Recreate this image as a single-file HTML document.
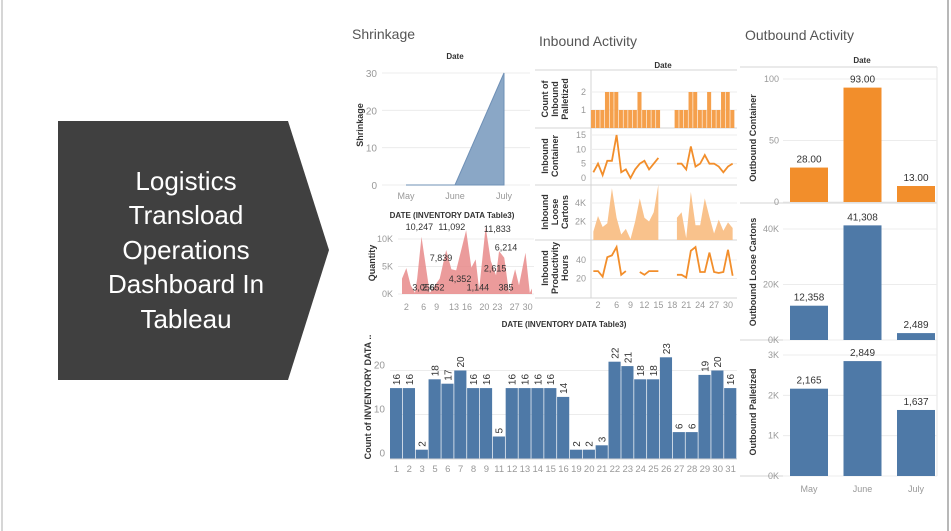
<!DOCTYPE html>
<html><head><meta charset="utf-8"><style>
html,body{margin:0;padding:0;background:#fff;}
svg{display:block;font-family:"Liberation Sans",sans-serif;}
</style></head><body>
<svg id="s" width="951" height="531" viewBox="0 0 951 531">
<line x1="2" y1="0" x2="2" y2="531" stroke="#c8c8c8" stroke-width="1.5"/>
<line x1="948" y1="0" x2="948" y2="531" stroke="#a0a0a0" stroke-width="1.5"/>
<g>
<polygon points="58,121 288,121 329,250 288,380 58,380" fill="#404040"/>
<text x="186" y="190" fill="#fff" font-size="26" text-anchor="middle">Logistics</text>
<text x="186" y="224" fill="#fff" font-size="26" text-anchor="middle">Transload</text>
<text x="186" y="259" fill="#fff" font-size="26" text-anchor="middle">Operations</text>
<text x="186" y="293" fill="#fff" font-size="26" text-anchor="middle">Dashboard In</text>
<text x="186" y="328" fill="#fff" font-size="26" text-anchor="middle">Tableau</text>
</g>
<text x="352" y="39" font-size="14" fill="#555">Shrinkage</text>
<text x="539" y="46" font-size="14" fill="#555">Inbound Activity</text>
<text x="745" y="40" font-size="14" fill="#555">Outbound Activity</text>
<g id="g"></g>
</svg>
<script>
// Shrinkage
const shrMonths=['May','June','July'];
const shrVals=[0,0,30];
const shrTicks=[0,10,20,30];
// Quantity area
const qtyDays=[1,2,3,4,4.5,5.5,7.4,9.7,11.2,12.4,13.5,15.8,17,18,18.8,20.3,21.5,22.7,23.4,24.6,25.7,27.1,28,29.5,30.5,31];
const qtyVals=[2800,4700,1600,200,2800,10400,200,2800,8000,4500,4300,11600,4800,6300,800,12200,6000,3400,7800,6600,200,4500,1600,7500,200,1000];
const qtyTicks=[0,5000,10000];
const qtyTickLabels=['0K','5K','10K'];
const qtyXTicks=[2,6,9,13,16,20,23,27,30];
const qtyLabelText=['10,247','11,092','11,833','6,214','7,839','2,615','4,352','3,056','2,652','1,144','385'];
const qtyLabelDays=[5,12.5,23,25,10,22.5,14.4,6,8.2,18.5,25];
const qtyLabelVals=[11600,11600,11300,7900,6000,4100,2200,600,600,600,600];
// Inbound
const inDaysA=[1,2,3,4,5,6,7,8,9,10,11,12,13,14,15];
const inDaysB=[19,20,21,22,23,24,25,26,27,28,29,30,31];
const palA=[1,1,1,2,2,2,1,1,1,1,2,1,1,1,1];
const palB=[1,1,1,2,2,1,1,2,1,1,2,2,1];
const contA=[2,5,1,6,6,15,2,3,0,3,5,6,3,5,7];
const contB=[5,5,3,11,4,5,8,5,5,4,2,4,5];
const looseA=[900,2600,1400,1800,5600,2400,600,1200,100,2000,4500,2400,2000,3000,6000];
const looseB=[2400,3000,200,5200,1600,1600,4500,2500,700,2200,1000,1900,1300];
const prodA=[28,28,22,43,45,54,24,28,null,null,27,24,28,28,28];
const prodB=[24,24,21,50,54,27,27,48,27,26,27,51,23];
const inXTicks=[2,6,9,12,15,18,21,24,27,30];
// Outbound
const outMonths=['May','June','July'];
const outCont=[28,93,13];
const outContLbl=['28.00','93.00','13.00'];
const outLoose=[12358,41308,2489];
const outLooseLbl=['12,358','41,308','2,489'];
const outPal=[2165,2849,1637];
const outPalLbl=['2,165','2,849','1,637'];
// Bottom bar chart
const barDays=['1','2','3','5','6','7','8','9','11','12','13','14','15','16','19','20','21','22','23','24','25','26','27','28','29','30','31'];
const barVals=[16,16,2,18,17,20,16,16,5,16,16,16,16,14,2,2,3,22,21,18,18,23,6,6,19,20,16];
const barTicks=[0,10,20];

const NS='http://www.w3.org/2000/svg';
const G=document.getElementById('g');
function mk(tag,attrs,parent,txt){const e=document.createElementNS(NS,tag);for(const k in attrs)e.setAttribute(k,attrs[k]);if(txt!==undefined)e.textContent=txt;(parent||G).appendChild(e);return e;}
function lin(d0,d1,r0,r1){return v=>r0+(v-d0)*(r1-r0)/(d1-d0);}
const GRID='#ececec',AX='#d4d4d4',TK='#999',LB='#333';

// ---- Shrinkage ----
{
const x=i=>406+i*49, y=lin(0,30,185,73);
let e=mk('text',{x:455,y:59,'font-size':8,fill:LB,'text-anchor':'middle','font-weight':'bold'},G,'Date');

shrTicks.forEach(t=>{
 e=mk('line',{x1:382,x2:530,y1:y(t),y2:y(t),stroke:GRID});
 
 e=mk('text',{x:377,y:y(t)+4,'font-size':10,fill:TK,'text-anchor':'end'},G,t);
 
});
let d='M'+x(0)+','+y(0);shrVals.forEach((v,i)=>d+=' L'+x(i)+','+y(v));d+=' L'+x(shrVals.length-1)+','+y(0)+'Z';
e=mk('path',{d:d,fill:'#8aa7c6',stroke:'#6f90b6','stroke-width':1});

shrMonths.forEach((m,i)=>{e=mk('text',{x:x(i),y:199,'font-size':9,fill:TK,'text-anchor':'middle'},G,m);
 });
e=mk('text',{x:0,y:0,'font-size':9,fill:LB,'font-weight':'bold','text-anchor':'middle',transform:'translate(363,125) rotate(-90)'},G,'Shrinkage');

}
// ---- Quantity ----
{
const x=lin(1,31,402,532), y=lin(0,10000,294,239);
let e=mk('text',{x:452,y:218,'font-size':8,fill:LB,'text-anchor':'middle','font-weight':'bold'},G,'DATE (INVENTORY DATA Table3)');

qtyTicks.forEach((t,i)=>{
 e=mk('line',{x1:398,x2:534,y1:y(t),y2:y(t),stroke:GRID});
 
 e=mk('text',{x:393,y:y(t)+3,'font-size':9,fill:TK,'text-anchor':'end'},G,qtyTickLabels[i]);
 
});
let d='M'+x(qtyDays[0])+','+y(0);qtyDays.forEach((dd,i)=>d+=' L'+x(dd)+','+y(qtyVals[i]));d+=' L'+x(qtyDays[qtyDays.length-1])+','+y(0)+'Z';
e=mk('path',{d:d,fill:'#e88a8a','fill-opacity':0.85});

qtyLabelText.forEach((t,i)=>{e=mk('text',{x:x(qtyLabelDays[i]),y:y(qtyLabelVals[i]),'font-size':9,fill:'#333','text-anchor':'middle'},G,t);
 });
qtyXTicks.forEach(t=>{e=mk('text',{x:x(t),y:310,'font-size':9,fill:TK,'text-anchor':'middle'},G,t);
 });
e=mk('text',{x:0,y:0,'font-size':9,fill:LB,'font-weight':'bold','text-anchor':'middle',transform:'translate(375,263) rotate(-90)'},G,'Quantity');

e=mk('text',{x:564,y:327,'font-size':8,fill:LB,'text-anchor':'middle','font-weight':'bold'},G,'DATE (INVENTORY DATA Table3)');

}
// ---- Inbound ----
{
const x=lin(2,30,598,728);
const L=591,R=737;
let e=mk('text',{x:663,y:68,'font-size':8,fill:LB,'text-anchor':'middle','font-weight':'bold'},G,'Date');

[70,128,185,240,298].forEach(yy=>{e=mk('line',{x1:535,x2:R,y1:yy,y2:yy,stroke:AX});
 });
e=mk('line',{x1:L,x2:L,y1:70,y2:298,stroke:AX});
function ticks(vals,labels,y){vals.forEach((t,i)=>{
 e=mk('line',{x1:L,x2:R,y1:y(t),y2:y(t),stroke:GRID});
 e=mk('text',{x:586,y:y(t)+3,'font-size':9,fill:TK,'text-anchor':'end'},G,labels[i]);});}
function title(lines,cy){lines.forEach((t,i)=>{e=mk('text',{x:0,y:0,'font-size':9,fill:LB,'font-weight':'bold','text-anchor':'middle',transform:'translate('+(548+i*10)+','+cy+') rotate(-90)'},G,t);
 });}
let y=lin(0,2,128,92);ticks([1,2],['1','2'],y);
const bw=4.64;
[[inDaysA,palA],[inDaysB,palB]].forEach(([ds,vs])=>ds.forEach((dd,i)=>{e=mk('rect',{x:x(dd)-bw/2,y:y(vs[i]),width:bw-0.6,height:y(0)-y(vs[i]),fill:'#f5a04c'});
 }));
title(['Count of','Inbound','Palletized'],99);
y=lin(0,15,178,135);ticks([0,5,10,15],['0','5','10','15'],y);
[[inDaysA,contA],[inDaysB,contB]].forEach(([ds,vs])=>{let d='';ds.forEach((dd,i)=>d+=(i?' L':'M')+x(dd)+','+y(vs[i]));
 e=mk('path',{d:d,fill:'none',stroke:'#f28e2b','stroke-width':1.8});});
title(['Inbound','Container'],156);
y=lin(0,4000,240,203);ticks([2000,4000],['2K','4K'],y);
[[inDaysA,looseA],[inDaysB,looseB]].forEach(([ds,vs])=>{let d='M'+x(ds[0])+','+y(0);ds.forEach((dd,i)=>d+=' L'+x(dd)+','+y(vs[i]));d+=' L'+x(ds[ds.length-1])+','+y(0)+'Z';
 e=mk('path',{d:d,fill:'#f9c28c'});});
title(['Inbound','Loose','Cartons'],212);
y=lin(0,40,297,260);ticks([20,40],['20','40'],y);
[[inDaysA,prodA],[inDaysB,prodB]].forEach(([ds,vs])=>{let d='',pen=false;ds.forEach((dd,i)=>{if(vs[i]===null){pen=false;return;}d+=(pen?' L':' M')+x(dd)+','+y(vs[i]);pen=true;});
 e=mk('path',{d:d,fill:'none',stroke:'#f28e2b','stroke-width':1.8});});
title(['Inbound','Productivity','Hours'],268);
inXTicks.forEach(t=>{e=mk('text',{x:x(t),y:308,'font-size':9,fill:TK,'text-anchor':'middle'},G,t);
 });
}
// ---- Outbound ----
{
const cx=i=>809+i*53.5, bw=38, L=783, R=937;
let e=mk('text',{x:862,y:63,'font-size':8,fill:LB,'text-anchor':'middle','font-weight':'bold'},G,'Date');

[67,203,340,476].forEach(yy=>{e=mk('line',{x1:740,x2:R,y1:yy,y2:yy,stroke:AX});});
e=mk('line',{x1:R,x2:R,y1:67,y2:476,stroke:'#e4e4e4'});
function panel(vals,lbls,y,ticks,tlbl,color,name,title,ty){
 ticks.forEach((t,i)=>{e=mk('line',{x1:L,x2:R,y1:y(t),y2:y(t),stroke:GRID});
  e=mk('text',{x:779,y:y(t)+3,'font-size':9,fill:TK,'text-anchor':'end'},G,tlbl[i]);});
 vals.forEach((v,i)=>{e=mk('rect',{x:cx(i)-bw/2,y:y(v),width:bw,height:y(0)-y(v),fill:color});
  
  e=mk('text',{x:cx(i),y:y(v)-5,'font-size':10,fill:'#333','text-anchor':'middle'},G,lbls[i]);
  });
 e=mk('text',{x:0,y:0,'font-size':9,fill:LB,'font-weight':'bold','text-anchor':'middle',transform:'translate(756,'+ty+') rotate(-90)'},G,title);
 
}
panel(outCont,outContLbl,lin(0,100,202,79),[0,50,100],['0','50','100'],'#f28e2b','outbound-container-bar','Outbound Container',138);
panel(outLoose,outLooseLbl,lin(0,40000,340,229),[0,20000,40000],['0K','20K','40K'],'#4e79a7','outbound-loose-bar','Outbound Loose Cartons',272);
panel(outPal,outPalLbl,lin(0,3000,476,355),[0,1000,2000,3000],['0K','1K','2K','3K'],'#4e79a7','outbound-palletized-bar','Outbound Palletized',412);
outMonths.forEach((m,i)=>{e=mk('text',{x:cx(i),y:492,'font-size':9,fill:TK,'text-anchor':'middle'},G,m);
 });
}
// ---- Bottom bars ----
{
const L=390,R=737,n=barDays.length,w=(R-L)/n, y=lin(0,20,458.5,370.5);
let e;
barTicks.forEach(t=>{e=mk('line',{x1:L,x2:R,y1:y(t),y2:y(t),stroke:GRID});
 e=mk('text',{x:385,y:y(t)-2,'font-size':10,fill:TK,'text-anchor':'end'},G,t);});
barVals.forEach((v,i)=>{const bx=L+i*w;
 e=mk('rect',{x:bx,y:y(v),width:w-0.7,height:y(0)-y(v),fill:'#4e79a7'});
 
 e=mk('text',{x:0,y:0,'font-size':10,fill:'#333',transform:'translate('+(bx+w/2+3.5)+','+(y(v)-3)+') rotate(-90)'},G,v);
 
 e=mk('text',{x:bx+w/2,y:472,'font-size':9.5,fill:TK,'text-anchor':'middle'},G,barDays[i]);
 });
e=mk('line',{x1:L,x2:R,y1:459,y2:459,stroke:AX});
e=mk('text',{x:0,y:0,'font-size':9,fill:LB,'font-weight':'bold','text-anchor':'middle',transform:'translate(371,397) rotate(-90)'},G,'Count of INVENTORY DATA ..');

}
</script>
</body></html>
